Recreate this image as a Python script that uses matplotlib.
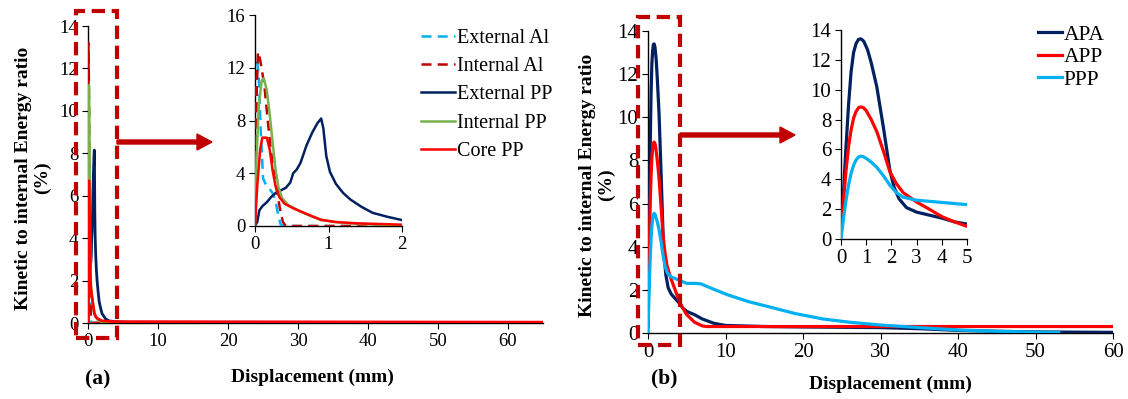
import matplotlib
matplotlib.use('Agg')
import matplotlib.pyplot as plt
from matplotlib.patches import Rectangle, FancyArrow

plt.rcParams['font.family'] = ['Liberation Serif', 'DejaVu Serif']

# ---- (a) layers ----
ext_al_x = [0, 0.01, 0.03, 0.05, 0.08, 0.11, 0.15, 0.2, 0.25, 0.29, 0.32, 0.35, 0.4, 1, 65]
ext_al_y = [0, 6, 12.4, 11.5, 7, 3.6, 3.1, 2.8, 2.4, 1.6, 0.7, 0.1, 0, 0, 0]
int_al_x = [0, 0.01, 0.04, 0.07, 0.1, 0.13, 0.17, 0.21, 0.25, 0.3, 0.34, 0.38, 0.42, 1, 65]
int_al_y = [0, 8, 13.2, 12.6, 11.6, 10.5, 8.2, 6.0, 4.3, 2.6, 1.3, 0.3, 0, 0, 0]
ext_pp_x = [0, 0.03, 0.06, 0.1, 0.16, 0.22, 0.28, 0.35, 0.42, 0.48, 0.52, 0.57, 0.62, 0.7,
            0.78, 0.85, 0.9, 0.93, 0.97, 1.02, 1.1, 1.2, 1.3, 1.45, 1.6, 1.8, 2.0, 2.5, 3, 4, 6, 65]
ext_pp_y = [0, 0.3, 1.2, 1.5, 1.8, 2.2, 2.5, 2.7, 2.9, 3.3, 4.0, 4.3, 4.8, 6.1,
            7.1, 7.8, 8.15, 7.4, 5.3, 4.1, 3.2, 2.5, 2.0, 1.45, 1.0, 0.7, 0.45, 0.2, 0.1, 0.06, 0.04, 0.02]
int_pp_x = [0, 0.02, 0.05, 0.09, 0.12, 0.16, 0.2, 0.24, 0.28, 0.32, 0.37, 0.45, 0.55, 0.7, 0.9, 1.1, 1.4, 2, 5, 65]
int_pp_y = [0, 5, 9, 11.0, 11.2, 10.3, 8.5, 6.3, 4.3, 2.9, 2.1, 1.6, 1.3, 0.9, 0.45, 0.3, 0.15, 0.05, 0.02, 0.01]
core_x = [0, 0.03, 0.07, 0.1, 0.16, 0.2, 0.24, 0.28, 0.33, 0.4, 0.5, 0.6, 0.75, 0.9, 1.1, 1.4, 2, 4, 65]
core_y = [0, 3.0, 5.8, 6.7, 6.7, 5.8, 4.2, 3.0, 2.2, 1.7, 1.4, 1.15, 0.8, 0.47, 0.3, 0.2, 0.1, 0.06, 0.04]

# ---- (b) panels ----
apa_x = [0, 0.1, 0.2, 0.3, 0.4, 0.5, 0.6, 0.7, 0.8, 0.9, 1.05, 1.2, 1.42, 1.68, 1.94, 2.1, 2.3,
         2.6, 3.0, 3.5, 4.0, 4.5, 5.0, 6, 7, 8.5, 10, 15, 20, 30, 35, 40, 45, 50, 55, 60]
apa_y = [0.3, 3.2, 6.2, 9.0, 11.2, 12.5, 13.1, 13.38, 13.4, 13.25, 12.7, 11.8, 10.2, 7.5, 4.6,
         3.5, 2.7, 2.1, 1.8, 1.6, 1.4, 1.15, 1.0, 0.85, 0.65, 0.45, 0.35, 0.3, 0.28, 0.25, 0.2,
         0.12, 0.08, 0.05, 0.04, 0.03]
app_x = [0, 0.1, 0.2, 0.3, 0.4, 0.5, 0.6, 0.7, 0.8, 0.9, 1.0, 1.2, 1.42, 1.7, 1.94, 2.2, 2.47,
         2.98, 3.5, 4.0, 4.5, 5.0, 6, 7, 7.5, 10, 20, 30, 40, 50, 60]
app_y = [0.3, 2.6, 4.6, 6.2, 7.3, 8.1, 8.55, 8.8, 8.85, 8.78, 8.6, 8.0, 7.2, 5.8, 4.5, 3.7, 3.1,
         2.5, 2.0, 1.5, 1.15, 0.85, 0.5, 0.33, 0.3, 0.3, 0.3, 0.3, 0.3, 0.3, 0.3]
ppp_x = [0, 0.1, 0.2, 0.3, 0.4, 0.5, 0.6, 0.7, 0.8, 0.9, 1.0, 1.2, 1.42, 1.7, 1.94, 2.2, 2.47,
         2.98, 4.0, 5.0, 6.0, 6.8, 8, 10.2, 13, 16.1, 19, 22.6, 26, 30, 35, 40, 45, 50, 53]
ppp_y = [0, 1.4, 2.6, 3.6, 4.4, 4.95, 5.3, 5.5, 5.55, 5.5, 5.4, 5.15, 4.8, 4.2, 3.6, 3.1, 2.8,
         2.6, 2.45, 2.3, 2.3, 2.28, 2.1, 1.78, 1.45, 1.17, 0.9, 0.65, 0.5, 0.37, 0.25, 0.14, 0.08,
         0.04, 0.02]

NAVY = '#002060'
RED = '#FF0000'
LBLUE = '#00B0F0'
GREEN = '#77B24C'
DRED = '#C00000'

W, H = 1128, 399
fig = plt.figure(figsize=(W / 100, H / 100), dpi=100)


def pos(x0, x1, ytop, ybot):
    return [x0 / W, 1 - ybot / H, (x1 - x0) / W, (ybot - ytop) / H]


def style(ax, fs):
    for s in ['top', 'right']:
        ax.spines[s].set_visible(False)
    for s in ['left', 'bottom']:
        ax.spines[s].set_color('black')
        ax.spines[s].set_linewidth(1.0)
    ax.tick_params(direction='out', length=4, width=0.8, labelsize=fs, pad=3)
    ax.patch.set_alpha(0)


def plot_a(ax, lw):
    ax.plot(ext_al_x, ext_al_y, color=LBLUE, lw=lw, ls=(0, (4, 2.5)), label='External Al', zorder=3)
    ax.plot(int_al_x, int_al_y, color=DRED, lw=lw, ls=(0, (4, 2.5)), label='Internal Al', zorder=3)
    ax.plot(ext_pp_x, ext_pp_y, color=NAVY, lw=lw, label='External PP', zorder=3)
    ax.plot(int_pp_x, int_pp_y, color=GREEN, lw=lw, label='Internal PP', zorder=3)
    ax.plot(core_x, core_y, color=RED, lw=lw, label='Core PP', zorder=3)


def plot_b(ax, lw):
    ax.plot(apa_x, apa_y, color=NAVY, lw=lw, label='APA', zorder=3)
    ax.plot(app_x, app_y, color=RED, lw=lw, label='APP', zorder=3)
    ax.plot(ppp_x, ppp_y, color=LBLUE, lw=lw, label='PPP', zorder=3)


ylab = 'Kinetic to internal Energy ratio\n(%)'

# (a) main
ax1 = fig.add_axes(pos(88, 543, 26, 323))
plot_a(ax1, 2.0)
ax1.set_xlim(0, 65)
ax1.set_ylim(0, 14)
ax1.set_xticks(range(0, 61, 10))
ax1.set_yticks(range(0, 15, 2))
style(ax1, 13.5)

# (a) inset
ax1i = fig.add_axes(pos(255, 402, 15, 226))
plot_a(ax1i, 1.8)
ax1i.set_xlim(0, 2)
ax1i.set_ylim(0, 16)
ax1i.set_xticks([0, 1, 2])
ax1i.set_yticks([0, 4, 8, 12, 16])
style(ax1i, 13.5)
h, l = ax1i.get_legend_handles_labels()
fig.legend(h, l, loc='upper left', bbox_to_anchor=(413 / W, 1 - 21 / H), frameon=False,
           fontsize=14.5, handlelength=1.7, handletextpad=0.1, labelspacing=0.45,
           borderaxespad=0)

# (b) main
ax2 = fig.add_axes(pos(648, 1113, 31, 333))
plot_b(ax2, 2.3)
ax2.set_xlim(0, 60)
ax2.set_ylim(0, 14)
ax2.set_xticks(range(0, 61, 10))
ax2.set_yticks(range(0, 15, 2))
style(ax2, 15)

# (b) inset
ax2i = fig.add_axes(pos(841, 967, 30, 239))
plot_b(ax2i, 2.3)
ax2i.set_xlim(0, 5)
ax2i.set_ylim(0, 14)
ax2i.set_xticks(range(0, 6))
ax2i.set_yticks(range(0, 15, 2))
style(ax2i, 15)
h, l = ax2i.get_legend_handles_labels()
fig.legend(h, l, loc='upper left', bbox_to_anchor=(1029 / W, 1 - 16 / H), frameon=False,
           fontsize=15.5, handlelength=1.15, handletextpad=0.05, labelspacing=0.12,
           borderaxespad=0)

# axis labels and panel tags
lab = dict(fontsize=14, fontweight='bold', ha='center', va='center')
fig.text(33 / W, 1 - 178 / H, ylab, rotation=90, linespacing=1.15, **lab)
fig.text(597 / W, 1 - 185 / H, ylab, rotation=90, linespacing=1.15, **lab)
fig.text(312 / W, 1 - 377 / H, 'Displacement (mm)', **lab)
fig.text(890 / W, 1 - 384 / H, 'Displacement (mm)', **lab)
fig.text(98 / W, 1 - 379 / H, '(a)', fontsize=15.5, fontweight='bold', ha='center', va='center')
fig.text(664 / W, 1 - 378 / H, '(b)', fontsize=15.5, fontweight='bold', ha='center', va='center')

# zoom boxes and arrows
for x0, x1, y0, y1 in [(76, 117, 11, 338), (638, 680, 17, 345)]:
    fig.patches.append(Rectangle((x0 / W, 1 - y1 / H), (x1 - x0) / W, (y1 - y0) / H,
                                 transform=fig.transFigure, fill=False, edgecolor=DRED,
                                 lw=3, ls=(0, (3.2, 1.6)), zorder=5))
for x0, x1, y in [(117, 212, 142), (680, 795, 135)]:
    fig.patches.append(FancyArrow(x0 / W, 1 - y / H, (x1 - x0) / W, 0,
                                  width=4 / H, head_width=16 / H, head_length=15 / W,
                                  length_includes_head=True, transform=fig.transFigure,
                                  color=DRED, zorder=5))

fig.savefig('out.png', dpi=100)
